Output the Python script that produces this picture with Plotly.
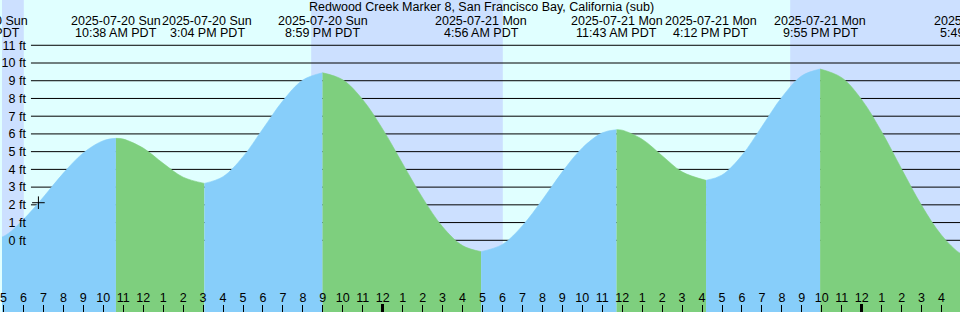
import plotly.graph_objects as go
import pandas as pd

# ---------------- data ----------------
title_text = "Redwood Creek Marker 8, San Francisco Bay, California (sub)"

curve_times = [
    "2025-07-20 03:58", "2025-07-20 05:00", "2025-07-20 06:00", "2025-07-20 07:00",
    "2025-07-20 08:00", "2025-07-20 09:00", "2025-07-20 10:00", "2025-07-20 10:38",
    "2025-07-20 11:00", "2025-07-20 12:00", "2025-07-20 13:00", "2025-07-20 14:00",
    "2025-07-20 15:04", "2025-07-20 16:00", "2025-07-20 17:00", "2025-07-20 18:00",
    "2025-07-20 19:00", "2025-07-20 20:00", "2025-07-20 20:59", "2025-07-20 22:00",
    "2025-07-20 23:00", "2025-07-21 00:00", "2025-07-21 01:00", "2025-07-21 02:00",
    "2025-07-21 03:00", "2025-07-21 04:00", "2025-07-21 04:56", "2025-07-21 06:00",
    "2025-07-21 07:00", "2025-07-21 08:00", "2025-07-21 09:00", "2025-07-21 10:00",
    "2025-07-21 11:00", "2025-07-21 11:43", "2025-07-21 12:00", "2025-07-21 13:00",
    "2025-07-21 14:00", "2025-07-21 15:00", "2025-07-21 16:12", "2025-07-21 17:00",
    "2025-07-21 18:00", "2025-07-21 19:00", "2025-07-21 20:00", "2025-07-21 21:00",
    "2025-07-21 21:55", "2025-07-21 23:00", "2025-07-22 00:00", "2025-07-22 01:00",
    "2025-07-22 02:00", "2025-07-22 03:00", "2025-07-22 04:00", "2025-07-22 05:00",
    "2025-07-22 05:49",
]
curve_heights = [
    -0.05, 0.22, 1.18, 2.44,
    3.79, 4.93, 5.62, 5.75,
    5.71, 5.20, 4.34, 3.56,
    3.21, 3.59, 4.71, 6.29,
    7.87, 9.04, 9.45, 9.05,
    7.93, 6.27, 4.32, 2.39,
    0.76, -0.30, -0.64, -0.23,
    0.82, 2.28, 3.86, 5.21,
    6.06, 6.24, 6.21, 5.70,
    4.77, 3.86, 3.38, 3.68,
    4.79, 6.42, 8.07, 9.28,
    9.66, 9.17, 7.93, 6.12,
    4.02, 1.97, 0.29, -0.78,
    -1.05,
]

extreme_times = [
    "2025-07-20 03:58", "2025-07-20 10:38", "2025-07-20 15:04", "2025-07-20 20:59",
    "2025-07-21 04:56", "2025-07-21 11:43", "2025-07-21 16:12", "2025-07-21 21:55",
    "2025-07-22 05:49",
]
extreme_heights = [-0.05, 5.75, 3.21, 9.45, -0.64, 6.24, 3.38, 9.66, -1.05]
extreme_date_labels = [
    "2025-07-20 Sun", "2025-07-20 Sun", "2025-07-20 Sun", "2025-07-20 Sun",
    "2025-07-21 Mon", "2025-07-21 Mon", "2025-07-21 Mon", "2025-07-21 Mon",
    "2025-07-22 Tue",
]
extreme_time_labels = [
    "3:58 AM PDT", "10:38 AM PDT", "3:04 PM PDT", "8:59 PM PDT",
    "4:56 AM PDT", "11:43 AM PDT", "4:12 PM PDT", "9:55 PM PDT",
    "5:49 AM PDT",
]

sunrise_times = ["2025-07-20 06:01", "2025-07-21 06:01"]
sunset_times = ["2025-07-20 20:25", "2025-07-21 20:25"]

now_time = ["2025-07-20 06:45"]
now_height = [2.12]

y_tick_values = [0, 1, 2, 3, 4, 5, 6, 7, 8, 9, 10, 11]
y_tick_labels = ["0 ft", "1 ft", "2 ft", "3 ft", "4 ft", "5 ft", "6 ft",
                 "7 ft", "8 ft", "9 ft", "10 ft", "11 ft"]
midnight_ticks = ["2025-07-21 00:00", "2025-07-22 00:00"]

# ---------------- style ----------------
W, H = 960, 312
x_range = ["2025-07-20 04:55:30", "2025-07-22 04:55:30"]
y_range = [-4.044, 13.553]
px_per_hour = W / 48.0
FONT = "Liberation Sans, Arial, sans-serif"
FS = 12.5
DAY = "#e0ffff"
NIGHT = "#cce0ff"
RISE = "#87cefa"
FALL = "#7ecf7e"
label_xshift = {2: 3, 6: 4.5}
grid_x0_px = 29
ylabel_axis_px = 24

fig = go.Figure()

# tide fill segments
ct = pd.to_datetime(pd.Series(curve_times))
et = pd.to_datetime(pd.Series(extreme_times))
for i in range(len(extreme_times) - 1):
    mask = (ct >= et[i]) & (ct <= et[i + 1])
    xs = [curve_times[k] for k in range(len(curve_times)) if mask[k]]
    ys = [curve_heights[k] for k in range(len(curve_heights)) if mask[k]]
    rising = extreme_heights[i + 1] > extreme_heights[i]
    color = RISE if rising else FALL
    fig.add_trace(go.Scatter(x=xs, y=[y_range[0] - 1] * len(xs), mode="lines",
                             line=dict(width=0, color=color), hoverinfo="skip",
                             showlegend=False))
    fig.add_trace(go.Scatter(x=xs, y=ys, mode="lines", fill="tonexty",
                             fillcolor=color, line=dict(width=0.6, color=color, shape="spline"),
                             hoverinfo="skip", showlegend=False))

# current-time marker
fig.add_trace(go.Scatter(x=now_time, y=now_height, mode="markers",
                         marker=dict(symbol="cross-thin", size=9,
                                     line=dict(width=1, color="black")),
                         showlegend=False, hoverinfo="skip"))

# dummy trace for bold midnight tick axis
fig.add_trace(go.Scatter(x=midnight_ticks, y=[y_range[0] - 2] * len(midnight_ticks),
                         xaxis="x2", mode="markers", marker=dict(opacity=0),
                         showlegend=False, hoverinfo="skip"))

shapes = []
# night shading
night_starts = ["2025-07-20 00:00"] + sunset_times
night_ends = sunrise_times + ["2025-07-22 12:00"]
for s, e in zip(night_starts, night_ends):
    shapes.append(dict(type="rect", xref="x", yref="paper", x0=s, x1=e, y0=0, y1=1,
                       fillcolor=NIGHT, line=dict(width=0), layer="below"))
# gridlines
for v in y_tick_values:
    shapes.append(dict(type="line", xref="paper", yref="y", x0=grid_x0_px / W, x1=1,
                       y0=v, y1=v, line=dict(color="black", width=1), layer="below"))

annotations = [dict(text=title_text, xref="paper", yref="paper", x=0.5, y=1 - 7 / H,
                    xanchor="center", yanchor="middle", showarrow=False,
                    font=dict(family=FONT, size=FS, color="black"))]

x_lo, x_hi = pd.Timestamp(x_range[0]), pd.Timestamp(x_range[1])
for i, t in enumerate(extreme_times):
    ts = pd.Timestamp(t)
    shift = label_xshift.get(i, 0)
    xpos = t
    if ts < x_lo:
        xpos = x_range[0]
        shift += (ts - x_lo).total_seconds() / 3600 * px_per_hour
    elif ts > x_hi:
        xpos = x_range[1]
        shift += (ts - x_hi).total_seconds() / 3600 * px_per_hour
    for txt, ypx in ((extreme_date_labels[i], 21), (extreme_time_labels[i], 33)):
        annotations.append(dict(text=txt, xref="x", yref="paper", x=xpos, y=1 - ypx / H,
                                xshift=shift, xanchor="center", yanchor="middle",
                                showarrow=False,
                                font=dict(family=FONT, size=FS, color="black")))

fig.update_layout(
    width=W, height=H,
    margin=dict(l=0, r=0, t=0, b=0, pad=0),
    paper_bgcolor=DAY, plot_bgcolor=DAY,
    shapes=shapes, annotations=annotations,
    showlegend=False,
    xaxis=dict(type="date", range=x_range, tick0="2025-07-20 00:00", dtick=3600000,
               tickformat="%-I", ticks="inside", ticklen=7, tickwidth=1,
               tickcolor="black", ticklabelposition="inside", ticklabeloverflow="allow",
               tickfont=dict(family=FONT, size=FS, color="black"),
               showgrid=False, zeroline=False, showline=False, fixedrange=True),
    xaxis2=dict(type="date", range=x_range, overlaying="x", anchor="y", side="bottom",
                tickvals=midnight_ticks, ticks="inside", ticklen=8, tickwidth=3,
                tickcolor="black", showticklabels=False, showgrid=False,
                zeroline=False, showline=False),
    yaxis=dict(range=y_range, tickvals=y_tick_values, ticktext=y_tick_labels,
               anchor="free", position=ylabel_axis_px / W, ticks="",
               tickfont=dict(family=FONT, size=FS, color="black"),
               showgrid=False, zeroline=False, showline=False, fixedrange=True),
)

fig.write_html("out.html")
